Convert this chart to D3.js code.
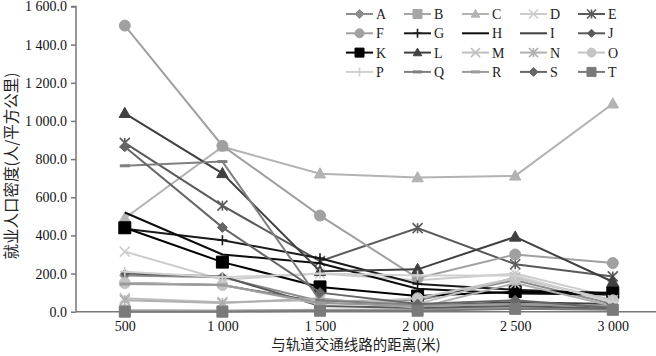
<!DOCTYPE html>
<html><head><meta charset="utf-8">
<script src="https://cdn.jsdelivr.net/npm/d3@7"></script>
<style>body{margin:0;background:#fff}svg{display:block}</style>
</head><body>
<svg id="c" width="656" height="356"></svg>
<script>
const categories = ["500","1 000","1 500","2 000","2 500","3 000"];
const yTicks = [0,200,400,600,800,1000,1200,1400,1600];
const seriesNames = ["A","B","C","D","E","F","G","H","I","J","K","L","M","N","O","P","Q","R","S","T"];
const A = [190,181,55,60,165,40];
const B = [8,6,10,12,22,15];
const C = [490,865,723,703,712,1090];
const D = [315,168,200,165,200,75];
const E = [885,556,265,438,249,185];
const F = [1500,870,504,176,300,255];
const G = [435,375,280,145,115,95];
const H = [520,300,254,120,95,90];
const I = [150,140,50,30,50,40];
const J = [200,185,30,20,30,15];
const K = [440,260,130,82,105,100];
const L = [1040,725,212,222,392,157];
const M = [70,50,60,40,180,60];
const N = [60,45,70,20,150,30];
const O = [150,140,40,70,175,60];
const P = [210,180,200,190,190,50];
const Q = [765,787,60,35,40,25];
const R = [145,140,45,30,40,30];
const S = [865,442,100,40,60,20];
const T = [0,0,5,5,15,10];
const seriesValues = [A,B,C,D,E,F,G,H,I,J,K,L,M,N,O,P,Q,R,S,T];

const styles = {
  A:{c:"#8c8c8c",m:"diamond",s:5},
  B:{c:"#a6a6a6",m:"square",s:5},
  C:{c:"#b3b3b3",m:"triangle",s:6},
  D:{c:"#cccccc",m:"x",s:5},
  E:{c:"#5a5a5a",m:"star",s:5},
  F:{c:"#a0a0a0",m:"circle",s:5.5},
  G:{c:"#1a1a1a",m:"plus",s:5},
  H:{c:"#0d0d0d",m:"none",s:0},
  I:{c:"#404040",m:"none",s:0},
  J:{c:"#595959",m:"diamond",s:4},
  K:{c:"#000000",m:"square",s:6},
  L:{c:"#404040",m:"triangle",s:6},
  M:{c:"#bfbfbf",m:"x",s:5},
  N:{c:"#b0b0b0",m:"star",s:5},
  O:{c:"#c4c4c4",m:"circle",s:5.5},
  P:{c:"#d0d0d0",m:"plus",s:5},
  Q:{c:"#7f7f7f",m:"dash",s:5},
  R:{c:"#9a9a9a",m:"dash",s:5},
  S:{c:"#666666",m:"diamond",s:5},
  T:{c:"#7a7a7a",m:"square",s:5.5}
};

const svg = d3.select("#c");
const pLeft = 76, pRight = 661.6, pTop = 6.5, pBottom = 311.7;
const x = d3.scalePoint().domain(categories).range([pLeft, pRight]).padding(0.5);
const y = d3.scaleLinear().domain([0,1600]).range([pBottom, pTop]);

function markerPath(m, r){
  switch(m){
    case "diamond": return `M0,${-r}L${r},0L0,${r}L${-r},0Z`;
    case "square": return `M${-r},${-r}H${r}V${r}H${-r}Z`;
    case "triangle": return `M0,${-r}L${r*0.95},${r*0.7}L${-r*0.95},${r*0.7}Z`;
    case "circle": return `M${r},0A${r},${r},0,1,1,${-r},0A${r},${r},0,1,1,${r},0Z`;
    case "x": return `M${-r},${-r}L${r},${r}M${-r},${r}L${r},${-r}`;
    case "star": return `M${-r},${-r}L${r},${r}M${-r},${r}L${r},${-r}M0,${-r}L0,${r}`;
    case "plus": return `M${-r},0L${r},0M0,${-r}L0,${r}`;
    case "dash": return `M${-r},0L${r},0`;
  }
  return "";
}
const filled = m => ["diamond","square","triangle","circle"].includes(m);

// y axis
const yAxis = d3.axisLeft(y).tickValues(yTicks).tickSize(5).tickPadding(4)
  .tickFormat(d => { const s = d3.format(".1f")(d); const parts = s.split("."); let ip = parts[0]; if (ip.length>3) ip = ip.slice(0,ip.length-3)+" "+ip.slice(-3); return ip+"."+parts[1]; });
const gy = svg.append("g").attr("transform",`translate(${pLeft},0)`).call(yAxis);
gy.select(".domain").attr("stroke","#777").attr("stroke-width",1.5).attr("d",`M-5,${pTop}H0V${pBottom}`);
gy.selectAll(".tick line").attr("stroke","#777").attr("stroke-width",1.5);
gy.selectAll("text").attr("font-family","Liberation Serif").attr("font-size",14).attr("fill","#111");

// x axis
const xAxis = d3.axisBottom(x).tickSize(0).tickPadding(9);
const gx = svg.append("g").attr("transform",`translate(0,${pBottom})`).call(xAxis);
gx.select(".domain").attr("stroke","#777").attr("stroke-width",1.5).attr("d",`M${pLeft},0H${pRight}`);
gx.selectAll("text").attr("font-family","Liberation Serif").attr("font-size",14).attr("fill","#111");

// series
const line = d3.line().x((d,i)=>x(categories[i])).y(d=>y(d));
seriesNames.forEach((n,k)=>{
  const st = styles[n], vals = seriesValues[k];
  const g = svg.append("g");
  g.append("path").attr("d", line(vals)).attr("fill","none").attr("stroke",st.c).attr("stroke-width",2);
  if (st.m !== "none"){
    g.selectAll("path.mk").data(vals).join("path").attr("class","mk")
      .attr("transform",(d,i)=>`translate(${x(categories[i])},${y(d)})`)
      .attr("d", markerPath(st.m, st.s))
      .attr("fill", filled(st.m)?st.c:"none")
      .attr("stroke", st.c).attr("stroke-width", filled(st.m)?1:(st.m==="dash"?3:1.6));
  }
});

// legend
const lg = svg.append("g");
seriesNames.forEach((n,k)=>{
  const col = k%5, row = Math.floor(k/5);
  const lx = 346 + col*58, ly = 14 + row*19.3;
  const st = styles[n];
  lg.append("line").attr("x1",lx).attr("x2",lx+27).attr("y1",ly).attr("y2",ly).attr("stroke",st.c).attr("stroke-width",2);
  if (st.m!=="none"){
    const r = Math.min(st.s, 4.5);
    lg.append("path").attr("transform",`translate(${lx+13.5},${ly})`).attr("d",markerPath(st.m, r))
      .attr("fill", filled(st.m)?st.c:"none").attr("stroke",st.c).attr("stroke-width", filled(st.m)?1:(st.m==="dash"?3:1.6));
  }
  lg.append("text").attr("x",lx+30).attr("y",ly+5).text(n)
    .attr("font-family","Liberation Serif").attr("font-size",14).attr("fill","#222");
});

// titles
svg.append("text").attr("transform","translate(17,166) rotate(-90)").attr("text-anchor","middle")
  .attr("font-family","Noto Sans CJK SC").attr("font-size",15.5).attr("fill","#222").text("就业人口密度(人/平方公里)");
svg.append("text").attr("x",356).attr("y",350).attr("text-anchor","middle")
  .attr("font-family","Noto Sans CJK SC").attr("font-size",14.5).attr("fill","#222").text("与轨道交通线路的距离(米)");
</script>
</body></html>
